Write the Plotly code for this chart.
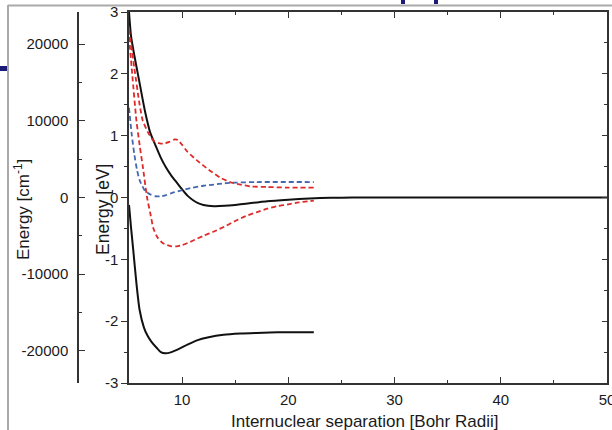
import plotly.graph_objects as go

W, H = 612, 430

# --- data (Internuclear separation in Bohr radii, energy in eV) ---
r_black_upper = [5.0, 5.2, 5.5, 6.0, 6.5, 7.0, 7.5, 8.0, 8.5, 9.0, 9.5, 10.0, 10.5, 11.0, 11.5, 12.0, 13.0, 14.0, 15.0, 16.0, 17.0, 18.0, 20.0, 22.0, 24.0, 26.0, 30.0, 40.0, 50.0]
e_black_upper = [3.0, 2.6, 2.3, 1.85, 1.4, 1.05, 0.84, 0.64, 0.48, 0.35, 0.24, 0.13, 0.03, -0.04, -0.09, -0.12, -0.14, -0.135, -0.12, -0.1, -0.08, -0.06, -0.035, -0.015, -0.005, 0.0, 0.0, 0.0, 0.0]

r_black_lower = [5.0, 5.2, 5.4, 5.7, 6.0, 6.4, 6.7, 7.1, 7.6, 8.0, 8.4, 9.0, 9.8, 10.5, 11.4, 12.5, 13.9, 15.5, 17.0, 19.0, 22.4]
e_black_lower = [-0.12, -0.5, -0.85, -1.39, -1.82, -2.1, -2.22, -2.33, -2.43, -2.5, -2.52, -2.5, -2.44, -2.38, -2.31, -2.26, -2.22, -2.2, -2.19, -2.18, -2.18]

r_red_upper = [5.0, 5.5, 6.0, 6.3, 6.8, 7.3, 7.8, 8.2, 8.8, 9.3, 9.6, 10.0, 10.5, 11.4, 12.5, 13.6, 14.5, 15.5, 16.4, 18.0, 20.0, 22.4]
e_red_upper = [2.72, 2.1, 1.5, 1.24, 1.05, 0.92, 0.88, 0.87, 0.9, 0.94, 0.93, 0.85, 0.74, 0.6, 0.45, 0.32, 0.25, 0.21, 0.18, 0.17, 0.16, 0.16]

r_red_lower = [5.0, 5.3, 5.7, 6.0, 6.3, 6.7, 7.0, 7.3, 7.7, 8.2, 9.0, 9.5, 10.0, 11.0, 12.0, 13.0, 14.0, 15.0, 16.0, 17.0, 18.0, 19.0, 20.0, 21.0, 22.4]
e_red_lower = [2.6, 2.0, 1.24, 0.85, 0.5, 0.0, -0.25, -0.5, -0.65, -0.74, -0.79, -0.79, -0.77, -0.7, -0.62, -0.55, -0.47, -0.38, -0.3, -0.24, -0.18, -0.14, -0.11, -0.08, -0.05]

r_blue = [5.0, 5.25, 5.5, 5.75, 6.0, 6.5, 7.0, 7.5, 8.0, 8.5, 9.0, 10.0, 11.0, 12.0, 13.0, 14.0, 15.0, 17.0, 22.4]
e_blue = [1.45, 1.03, 0.7, 0.45, 0.28, 0.11, 0.05, 0.02, 0.02, 0.04, 0.07, 0.12, 0.16, 0.19, 0.21, 0.23, 0.24, 0.25, 0.25]

x_ticks = [10, 20, 30, 40, 50]
x_ticklabels = ["10", "20", "30", "40", "50"]
ev_ticks = [-3, -2, -1, 0, 1, 2, 3]
ev_ticklabels = ["-3", "-2", "-1", "0", "1", "2", "3"]
cm_ticks = [-20000, -10000, 0, 10000, 20000]
cm_ticklabels = ["-20000", "-10000", "0", "10000", "20000"]
EV_TO_CM = 8065.54

FONT = "Liberation Sans, Arial, sans-serif"
BLACK = "#111111"
RED = "#dd2a2a"
BLUE = "#4468b0"
AXC = "#333333"
TXT = "#1a1a1a"

def px(x):
    return x / W

def py(y):
    return 1 - y / H

fig = go.Figure()
fig.add_trace(go.Scatter(x=r_black_upper, y=e_black_upper, mode="lines",
                         line=dict(color=BLACK, width=2, shape="spline", smoothing=0.6)))
fig.add_trace(go.Scatter(x=r_black_lower, y=e_black_lower, mode="lines",
                         line=dict(color=BLACK, width=2, shape="spline", smoothing=0.6)))
fig.add_trace(go.Scatter(x=r_red_upper, y=e_red_upper, mode="lines",
                         line=dict(color=RED, width=1.8, dash="5px,3px", shape="spline", smoothing=0.6)))
fig.add_trace(go.Scatter(x=r_red_lower, y=e_red_lower, mode="lines",
                         line=dict(color=RED, width=1.8, dash="5px,3px", shape="spline", smoothing=0.6)))
fig.add_trace(go.Scatter(x=r_blue, y=e_blue, mode="lines",
                         line=dict(color=BLUE, width=1.8, dash="5px,3px", shape="spline", smoothing=0.6)))
fig.add_trace(go.Scatter(x=[5], y=[0], yaxis="y2", mode="markers", marker=dict(opacity=0), hoverinfo="skip"))
fig.add_trace(go.Scatter(x=[5], y=[0], yaxis="y3", mode="markers", marker=dict(opacity=0), hoverinfo="skip"))

xdom = [px(129), px(607)]
ydom = [py(383), py(12)]

fig.update_layout(
    width=W, height=H,
    margin=dict(l=0, r=0, t=0, b=0),
    paper_bgcolor="white", plot_bgcolor="white",
    showlegend=False,
    font=dict(family=FONT, size=15, color=TXT),
    xaxis=dict(domain=xdom, range=[5, 50], tickvals=x_ticks, ticktext=x_ticklabels,
               ticks="inside", ticklen=6, tickwidth=1, tickcolor=AXC, showline=True,
               linecolor=AXC, linewidth=1.5, mirror="ticks", showgrid=False, zeroline=False,
               automargin=False, ticklabeloverflow="allow",
               minor=dict(dtick=5, tick0=0, ticks="inside", ticklen=3, tickcolor=AXC),
               tickfont=dict(size=15), ticklabelstandoff=2),
    yaxis=dict(domain=ydom, range=[-3, 3], tickvals=ev_ticks, ticktext=ev_ticklabels,
               ticks="outside", ticklen=6, tickwidth=1, tickcolor=AXC, showline=True,
               linecolor=AXC, linewidth=1.5, mirror=True, showgrid=False, zeroline=False,
               automargin=False, ticklabeloverflow="allow",
               minor=dict(dtick=0.5, tick0=0, ticks="outside", ticklen=3, tickcolor=AXC),
               tickfont=dict(size=15)),
    yaxis2=dict(overlaying="y", anchor="free", position=px(78), side="left",
                range=[-3 * EV_TO_CM, 3 * EV_TO_CM], tickvals=cm_ticks, ticktext=cm_ticklabels,
                ticks="inside", ticklen=6, tickwidth=1, tickcolor=AXC, showline=True,
                linecolor=AXC, linewidth=1.5, showgrid=False, zeroline=False,
                automargin=False, ticklabeloverflow="allow",
                minor=dict(dtick=5000, tick0=0, ticks="inside", ticklen=3, tickcolor=AXC),
                tickfont=dict(size=15), ticklabelstandoff=6),
    yaxis3=dict(overlaying="y", anchor="x", side="right", range=[-3, 3], tickvals=ev_ticks,
                ticks="inside", ticklen=5, tickcolor=AXC, showticklabels=False,
                showline=False, showgrid=False, zeroline=False, automargin=False,
                minor=dict(dtick=0.5, tick0=0, ticks="inside", ticklen=3, tickcolor=AXC)),
)

annotations = [
    dict(text="Internuclear separation [Bohr Radii]", x=px(364), y=py(421), xref="paper", yref="paper",
         showarrow=False, font=dict(size=17, color=TXT), xanchor="center", yanchor="middle"),
    dict(text="Energy [eV]", x=px(103), y=py(210), xref="paper", yref="paper", textangle=-90,
         showarrow=False, font=dict(size=17.5, color=TXT), xanchor="center", yanchor="middle"),
    dict(text="Energy [cm<sup>-1</sup>]", x=px(22), y=py(210), xref="paper", yref="paper", textangle=-90,
         showarrow=False, font=dict(size=17, color=TXT), xanchor="center", yanchor="middle"),
]
fig.update_layout(annotations=annotations)

shapes = [
    dict(type="line", xref="paper", yref="paper", x0=px(8), x1=px(8), y0=py(5), y1=py(430),
         line=dict(color="#aaaaaa", width=2)),
    dict(type="line", xref="paper", yref="paper", x0=px(8), x1=1, y0=py(5.5), y1=py(5.5),
         line=dict(color="#aaaaaa", width=2)),
    dict(type="rect", xref="paper", yref="paper", x0=0, x1=px(7), y0=py(71), y1=py(66),
         fillcolor="#1c1c78", line=dict(width=0)),
    dict(type="rect", xref="paper", yref="paper", x0=px(401), x1=px(405), y0=py(4), y1=1,
         fillcolor="#1c1c78", line=dict(width=0)),
    dict(type="rect", xref="paper", yref="paper", x0=px(434), x1=px(438), y0=py(4), y1=1,
         fillcolor="#1c1c78", line=dict(width=0)),
]
fig.update_layout(shapes=shapes)

fig.write_html("out.html")
